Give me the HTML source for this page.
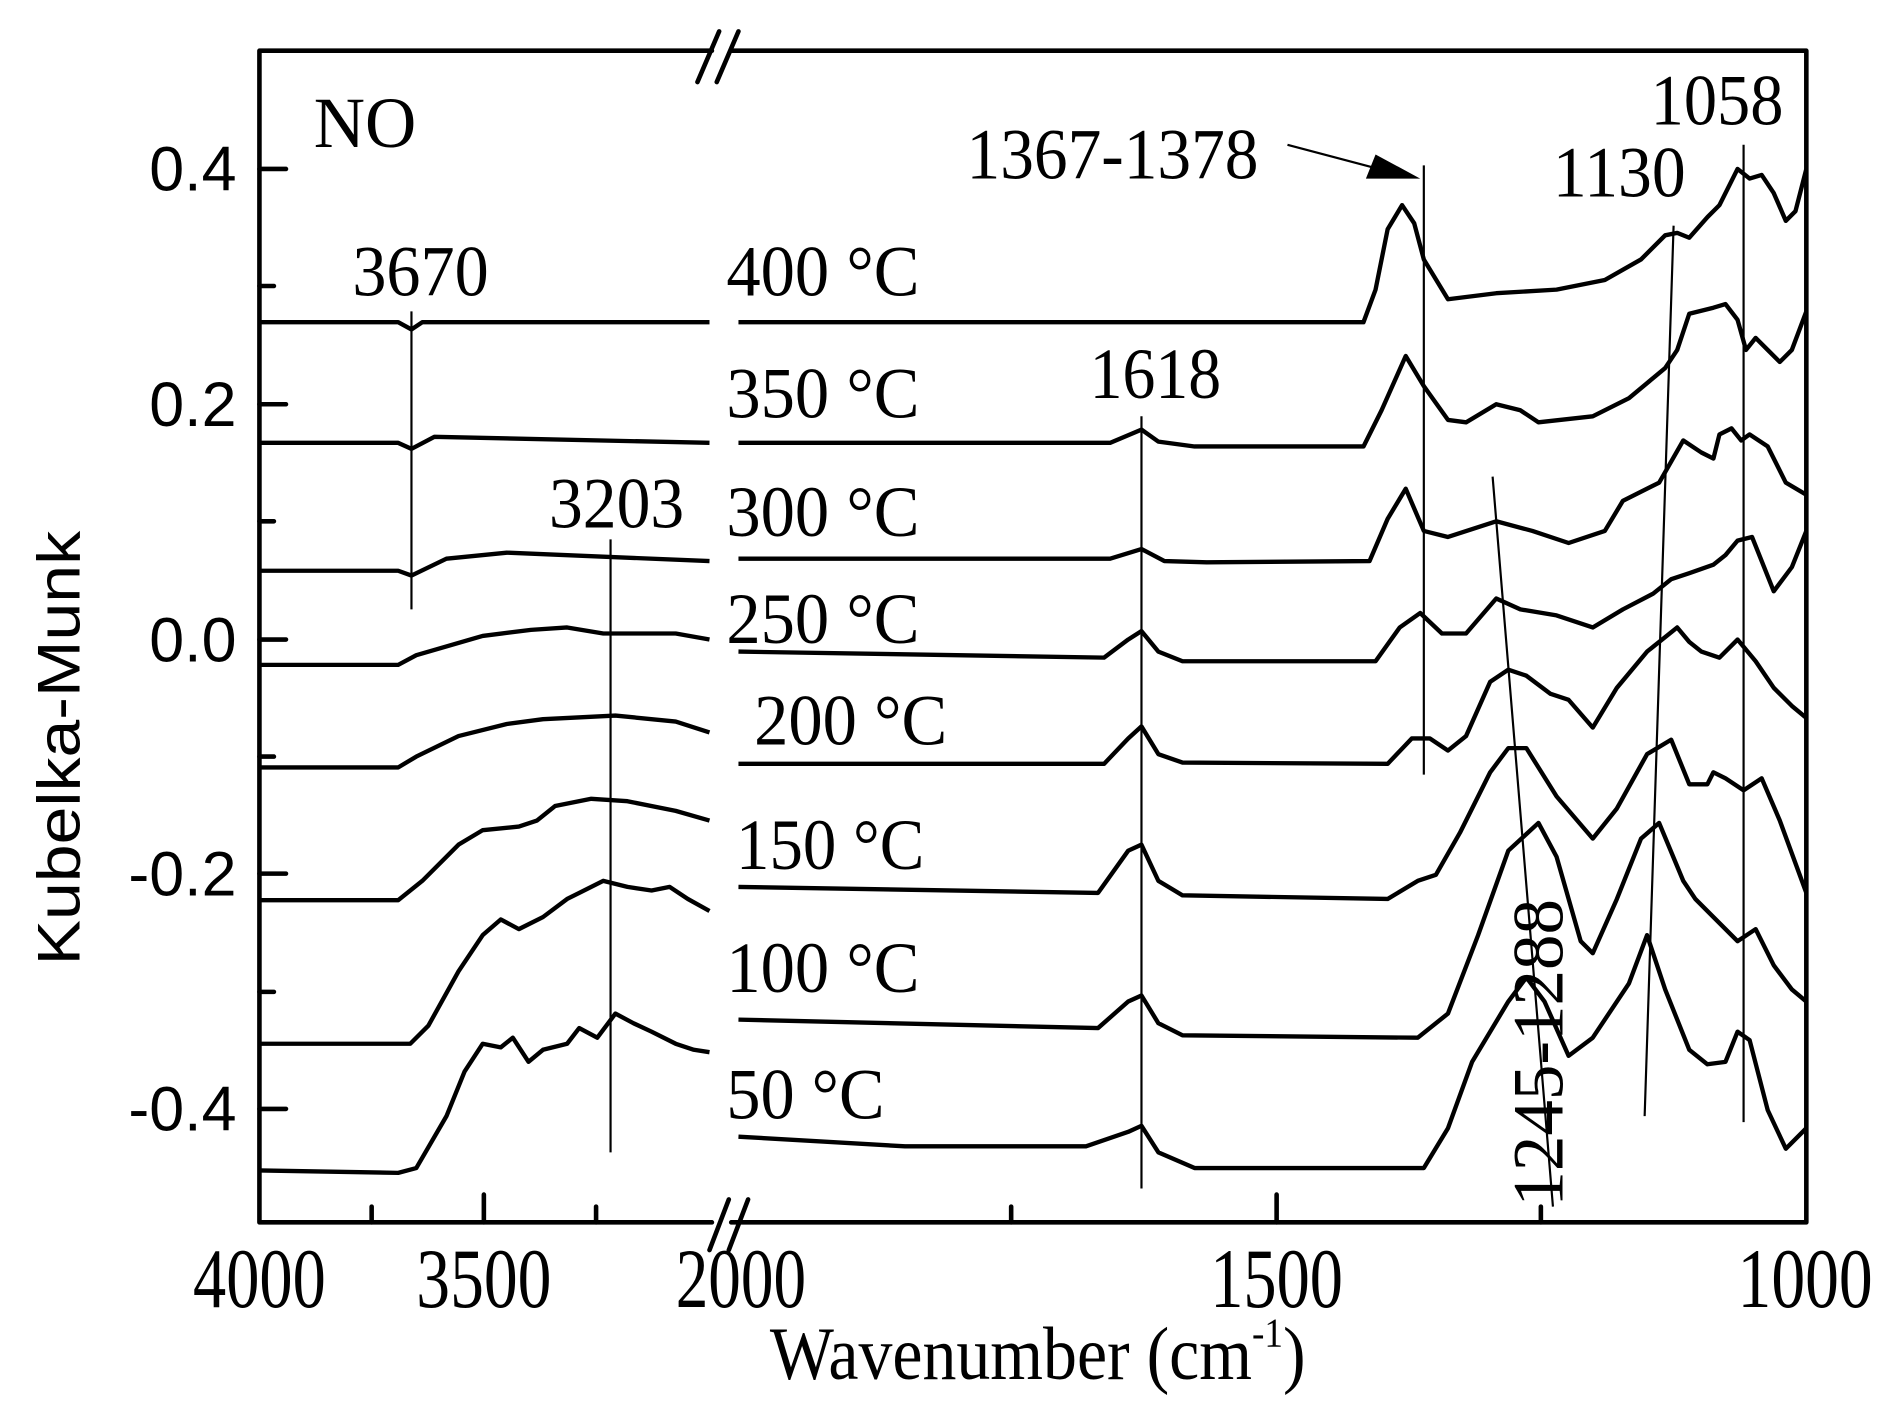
<!DOCTYPE html>
<html><head><meta charset="utf-8"><style>
html,body{margin:0;padding:0;background:#fff;}
svg{display:block;}
.s{font-family:"Liberation Serif",serif;}
.a{font-family:"Liberation Sans",sans-serif;}
</style></head><body>
<svg width="1892" height="1413" viewBox="0 0 1568 1171" xmlns="http://www.w3.org/2000/svg">
<rect width="1568" height="1171" fill="#fff"/>
<g fill="none" stroke="#000" stroke-width="3.8" stroke-linejoin="round" stroke-linecap="round">
<path d="M215,42 H590 M606,42 H1497 V1013 H606 M590,1013 H215 V42"/>
<path d="M578,68 L596,26 M594,68 L612,26 M588,1036 L604,994 M604,1036 L620,994"/>
<path d="M215,140 h22 M215,335 h22 M215,530 h22 M215,724 h22 M215,919 h22 M215,237 h12 M215,432 h12 M215,627 h12 M215,822 h12"/>
<path d="M401,1013 v-23 M308,1013 v-13 M494,1013 v-13 M1058,1013 v-23 M838,1013 v-13 M1277,1013 v-13"/>
</g>
<g fill="none" stroke="#000" stroke-width="3.6" stroke-linejoin="round">
<polyline points="215,267 330,267 341,273 350,267 588,267"/>
<polyline points="612,267 1130,267 1140,240 1150,190 1162,170 1172,185 1180,215 1200,248 1240,243 1290,240 1330,232 1360,215 1380,195 1390,193 1400,197 1415,180 1425,170 1440,140 1450,148 1460,145 1470,160 1480,183 1488,175 1497,140"/>
<polyline points="215,367 330,367 341,372 360,362 588,367"/>
<polyline points="612,367 920,367 946,356 960,366 990,370 1130,370 1145,340 1165,295 1180,320 1200,348 1215,350 1240,335 1260,340 1275,350 1320,345 1350,330 1380,305 1390,290 1400,260 1420,255 1430,252 1440,265 1447,290 1455,280 1465,290 1475,300 1485,290 1497,258"/>
<polyline points="215,473 330,473 341,477 370,463 420,458 588,465"/>
<polyline points="612,463 920,463 946,455 965,465 1000,466 1135,465 1150,430 1165,405 1180,440 1200,445 1240,432 1270,440 1300,450 1330,440 1345,415 1375,400 1395,365 1410,375 1420,380 1425,360 1435,355 1443,365 1450,360 1465,370 1480,400 1497,410"/>
<polyline points="215,551 330,551 345,543 400,527 440,522 470,520 500,525 560,525 588,530"/>
<polyline points="612,540 915,545 935,530 946,523 960,540 980,548 1140,548 1160,520 1177,508 1195,525 1215,525 1240,496 1260,505 1290,510 1320,520 1345,505 1370,492 1385,480 1400,475 1420,468 1430,460 1440,448 1452,445 1460,465 1470,490 1485,470 1497,440"/>
<polyline points="215,636 330,636 345,627 380,610 420,600 450,596 510,593 560,598 588,607"/>
<polyline points="612,633 915,633 935,612 946,602 960,625 980,632 1150,633 1170,612 1185,612 1200,622 1215,610 1235,565 1250,555 1265,560 1285,575 1300,580 1320,603 1340,570 1365,540 1390,520 1400,532 1410,540 1425,545 1440,530 1455,548 1470,570 1485,585 1497,595"/>
<polyline points="215,746 330,746 350,730 380,700 400,688 430,685 445,680 460,668 490,662 520,664 560,672 588,680"/>
<polyline points="612,735 910,740 935,705 946,700 960,730 980,742 1150,745 1175,730 1190,725 1210,690 1235,640 1250,620 1265,620 1290,660 1320,695 1340,670 1365,625 1385,613 1400,650 1415,650 1420,640 1430,645 1445,655 1460,645 1475,680 1497,740"/>
<polyline points="215,865 340,865 355,850 380,805 400,775 415,762 430,770 450,760 470,745 480,740 500,730 520,735 540,738 555,735 570,745 588,755"/>
<polyline points="612,845 910,852 935,830 946,825 960,848 980,858 1175,860 1200,840 1225,775 1250,705 1275,682 1290,710 1310,780 1320,790 1340,745 1360,695 1375,682 1395,730 1405,745 1420,760 1440,780 1455,770 1470,800 1485,820 1497,830"/>
<polyline points="215,970 330,972 345,968 370,925 385,888 400,865 415,868 425,860 438,880 450,870 470,865 480,852 495,860 510,840 525,848 540,855 560,865 575,870 588,872"/>
<polyline points="612,942 750,950 900,950 935,938 946,933 960,955 990,968 1180,968 1200,935 1220,880 1250,830 1265,810 1280,830 1300,875 1320,860 1350,815 1365,775 1380,820 1400,870 1415,882 1430,880 1440,855 1450,862 1465,920 1480,952 1497,935"/>
</g>
<g stroke="#000" stroke-width="1.8" fill="none">
<path d="M341,258 V505 M506,447 V955 M946,345 V985 M1180,137 V642 M1237,395 L1287,1000 M1387,187 L1363,925 M1445,120 V930 M1067,120 L1150,142"/>
</g>
<path d="M1177,148 L1132,148 L1140,128 Z" fill="#000"/>
<g class="a" font-size="52" text-anchor="end">
<text x="196" y="158">0.4</text>
<text x="196" y="353">0.2</text>
<text x="196" y="548">0.0</text>
<text x="196" y="742">-0.2</text>
<text x="196" y="937">-0.4</text>
</g>
<g class="s" font-size="70">
<text x="160" y="1083" textLength="110" lengthAdjust="spacingAndGlyphs">4000</text>
<text x="345" y="1083" textLength="112" lengthAdjust="spacingAndGlyphs">3500</text>
<text x="560" y="1083" textLength="108" lengthAdjust="spacingAndGlyphs">2000</text>
<text x="1003" y="1083" textLength="110" lengthAdjust="spacingAndGlyphs">1500</text>
<text x="1440" y="1083" textLength="112" lengthAdjust="spacingAndGlyphs">1000</text>
</g>
<text class="s" x="638" y="1143" font-size="62" textLength="444" lengthAdjust="spacingAndGlyphs">Wavenumber (cm<tspan dy="-27" font-size="34">-1</tspan><tspan dy="27">)</tspan></text>
<text class="a" transform="translate(66,620) rotate(-90)" font-size="50" text-anchor="middle" textLength="360" lengthAdjust="spacingAndGlyphs">Kubelka-Munk</text>
<g class="s" font-size="60">
<text x="260" y="122" textLength="85" lengthAdjust="spacingAndGlyphs">NO</text>
<text x="292" y="245" textLength="113" lengthAdjust="spacingAndGlyphs">3670</text>
<text x="455" y="437" textLength="112" lengthAdjust="spacingAndGlyphs">3203</text>
<text x="903" y="330" textLength="109" lengthAdjust="spacingAndGlyphs">1618</text>
<text x="801" y="148" textLength="242" lengthAdjust="spacingAndGlyphs">1367-1378</text>
<text x="1287" y="163" textLength="110" lengthAdjust="spacingAndGlyphs">1130</text>
<text x="1368" y="103" textLength="110" lengthAdjust="spacingAndGlyphs">1058</text>
<text transform="translate(1295,1000) rotate(-90)" textLength="255" lengthAdjust="spacingAndGlyphs">1245-1288</text>
<text x="602" y="245" textLength="160" lengthAdjust="spacingAndGlyphs">400 °C</text>
<text x="602" y="346" textLength="160" lengthAdjust="spacingAndGlyphs">350 °C</text>
<text x="602" y="444" textLength="160" lengthAdjust="spacingAndGlyphs">300 °C</text>
<text x="602" y="533" textLength="160" lengthAdjust="spacingAndGlyphs">250 °C</text>
<text x="625" y="617" textLength="160" lengthAdjust="spacingAndGlyphs">200 °C</text>
<text x="610" y="720" textLength="156" lengthAdjust="spacingAndGlyphs">150 °C</text>
<text x="602" y="822" textLength="160" lengthAdjust="spacingAndGlyphs">100 °C</text>
<text x="602" y="927" textLength="131" lengthAdjust="spacingAndGlyphs">50 °C</text>
</g>
</svg>
</body></html>
